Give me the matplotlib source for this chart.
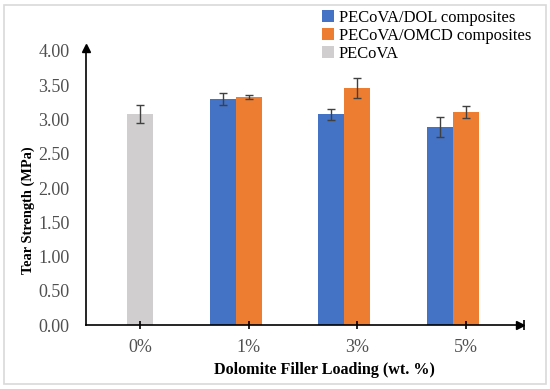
import numpy as np
import matplotlib
matplotlib.use("Agg")
import matplotlib.pyplot as plt
from matplotlib.patches import Rectangle

plt.rcParams['font.family'] = ['Liberation Serif', 'DejaVu Serif']

# data
categories = ["0%", "1%", "3%", "5%"]
dol_vals = [np.nan, 3.30, 3.08, 2.89]
dol_err = [0, 0.09, 0.08, 0.15]
omcd_vals = [np.nan, 3.33, 3.46, 3.11]
omcd_err = [0, 0.03, 0.15, 0.09]
neat_vals = [3.08, np.nan, np.nan, np.nan]
neat_err = [0.13, 0, 0, 0]

c_blue = "#4472C4"
c_orange = "#ED7D31"
c_grey = "#D0CECE"
c_err = "#404040"

fig = plt.figure(figsize=(5.5, 3.89), dpi=100)
ax = fig.add_axes([0.1564, 0.1645, 0.7891, 0.7044])

x = np.arange(len(categories))
w = 0.24
ekw = dict(ecolor=c_err, elinewidth=1.0, capsize=3, capthick=1.0)

ax.bar(x - w, dol_vals, w, yerr=dol_err, color=c_blue, error_kw=ekw,
       label="PECoVA/DOL composites")
ax.bar(x, omcd_vals, w, yerr=omcd_err, color=c_orange, error_kw=ekw,
       label="PECoVA/OMCD composites")
ax.bar(x, neat_vals, w, yerr=neat_err, color=c_grey, error_kw=ekw,
       label="PECoVA")

ax.set_xlim(-0.5, 3.5)
ax.set_ylim(0, 4.0)
ax.set_yticks(np.arange(0, 4.01, 0.5))
ax.set_yticklabels(["%.2f" % v for v in np.arange(0, 4.01, 0.5)])
ax.set_xticks(x)
ax.set_xticklabels(categories)

for s in ["top", "right"]:
    ax.spines[s].set_visible(False)
ax.spines["left"].set_linewidth(1.2)
ax.spines["bottom"].set_linewidth(1.2)
ax.tick_params(axis="y", length=0, pad=12, labelsize=13, colors="#505050")
ax.tick_params(axis="x", direction="inout", length=6, width=1.2, pad=7,
               labelsize=13, labelcolor="#505050")

# axis arrows
ax.plot(0, 1.01, "^k", ms=6, transform=ax.transAxes, clip_on=False)
ax.plot([0, 0], [1.0, 1.01], "k-", lw=1.2, transform=ax.transAxes, clip_on=False)
ax.plot(1, 0, ">k", ms=6, transform=ax.transAxes, clip_on=False)
ax.plot(1.009, 0, "|k", ms=7, mew=1.2, transform=ax.transAxes, clip_on=False)

ax.set_ylabel("Tear Strength (MPa)", fontsize=10.4, fontweight="bold")
ax.yaxis.set_label_coords(-0.117, 0.42)
ax.set_xlabel("Dolomite Filler Loading (wt. %)", fontsize=11.6, fontweight="bold")
ax.xaxis.set_label_coords(0.55, -0.135)

fig.legend(loc="upper left", bbox_to_anchor=(0.565, 1.005), frameon=False,
           fontsize=11.9, handlelength=0.7, handleheight=0.7,
           handletextpad=0.3, labelspacing=0.12, borderpad=0.2)

# light frame round the figure
fig.patches.append(Rectangle((0.008, 0.012), 0.984, 0.976, transform=fig.transFigure,
                             fill=False, edgecolor="#D9D9D9", lw=1.2))

fig.savefig("out.png", dpi=100)
